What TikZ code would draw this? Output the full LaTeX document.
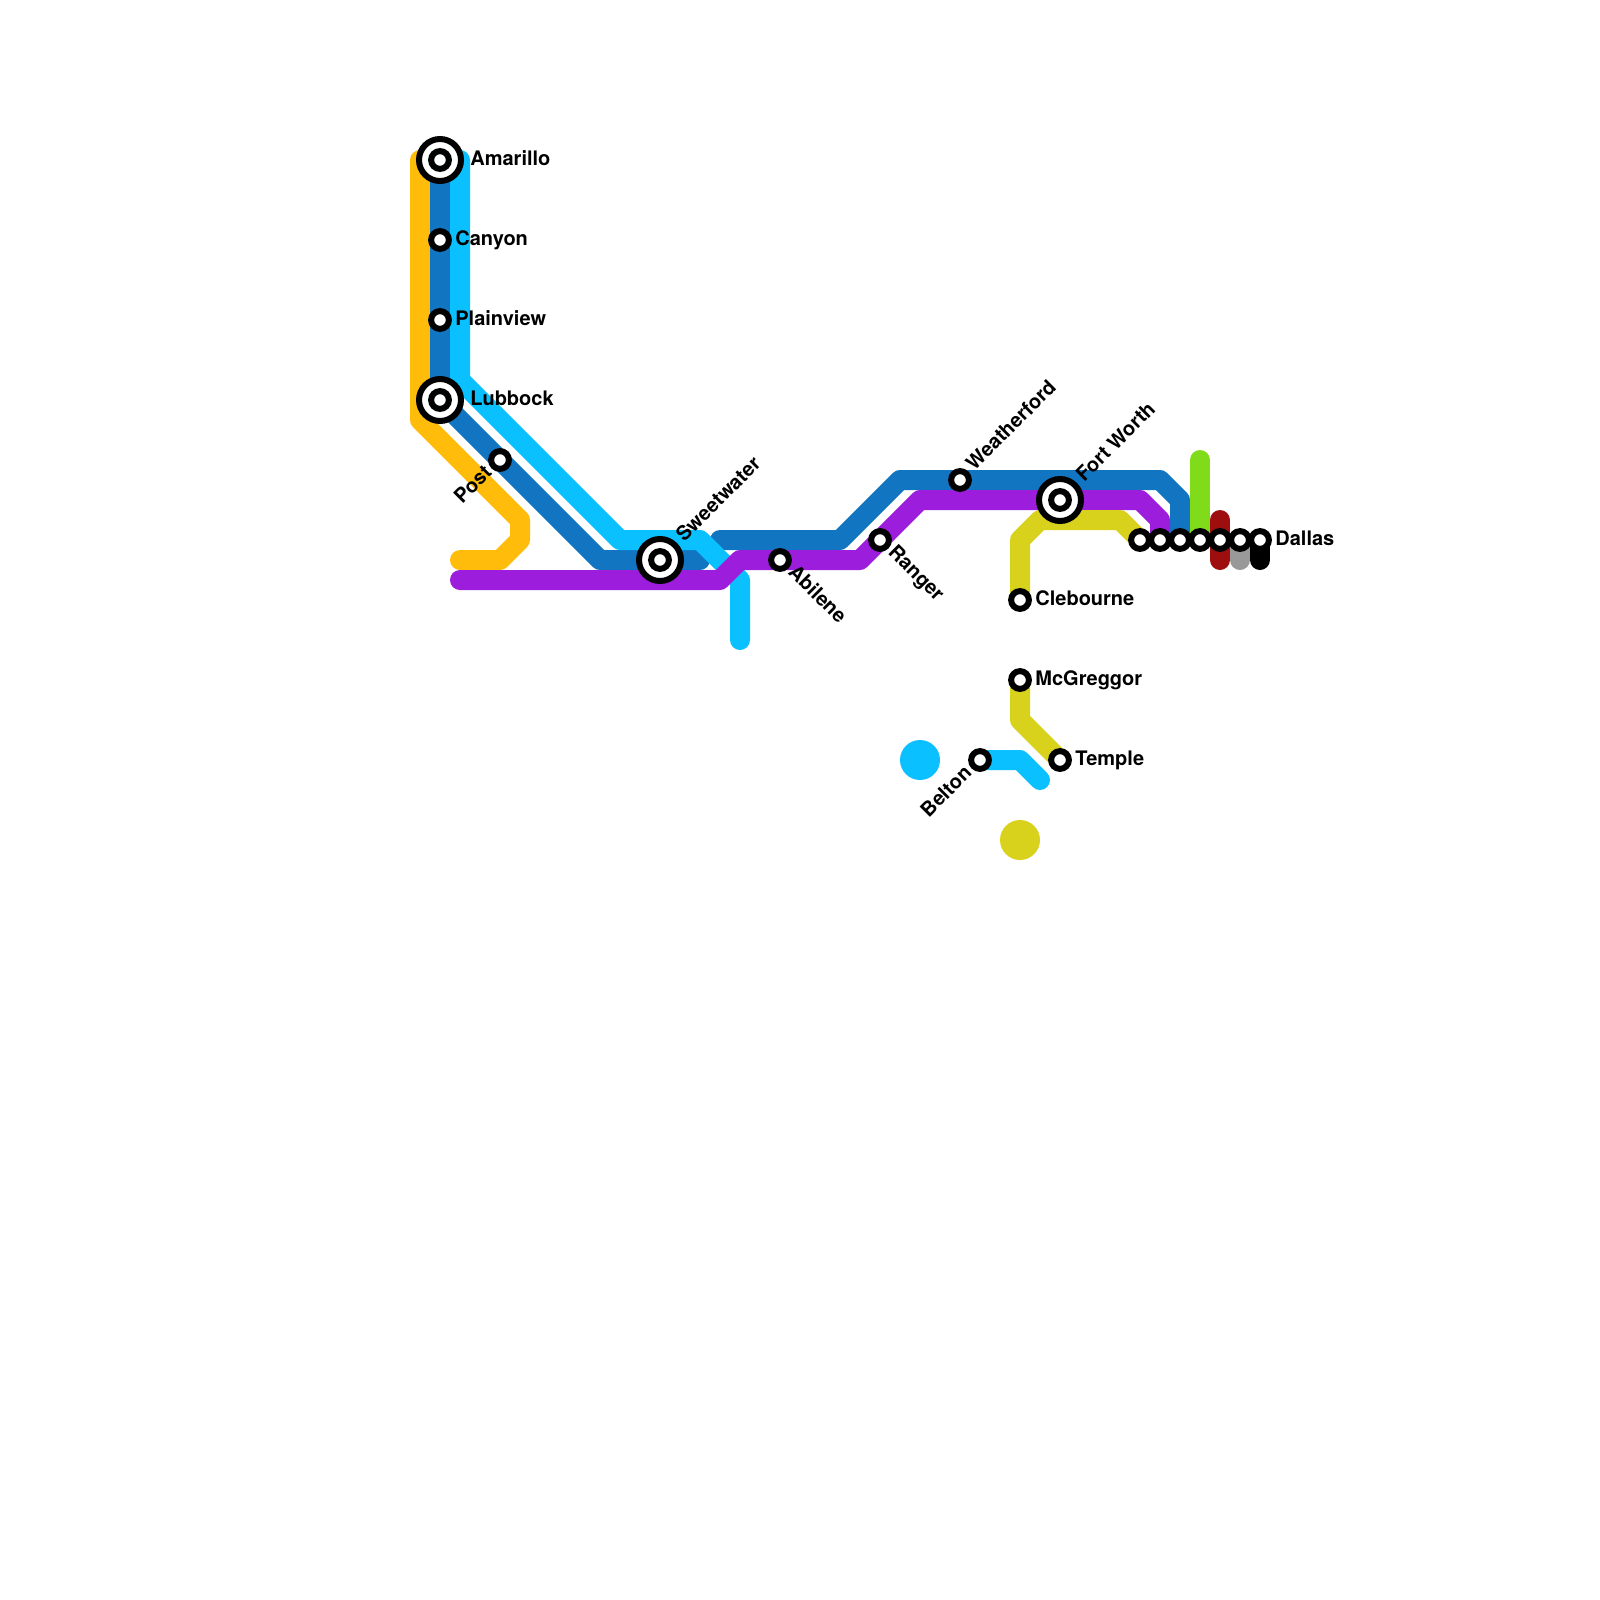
\documentclass[tikz,border=0pt]{standalone}
\usepackage{fontspec}
\setmainfont{TeX Gyre Heros}
\usepackage{xcolor}
\usetikzlibrary{positioning,calc}
\definecolor{amberline}{HTML}{FFBC0A}
\definecolor{navyline}{HTML}{1175C2}
\definecolor{skyline}{HTML}{0BC0FF}
\definecolor{plumline}{HTML}{9D1DDC}
\definecolor{oliveline}{HTML}{D9D21C}
\definecolor{limeline}{HTML}{80DC1A}
\definecolor{brickline}{HTML}{9E0E0E}
\definecolor{ashline}{HTML}{999999}
\tikzset{
  route/.style={line width=10pt, line cap=round, line join=round},
  stop/.style={circle, draw=black, fill=white, line width=3pt, minimum size=8.9pt, inner sep=0pt},
  hub/.style={circle, draw=black, fill=white, line width=3pt, minimum size=21pt, inner sep=0pt},
  disc/.style={circle, minimum size=20pt, inner sep=0pt},
  lbl/.style={font=\fontsize{10}{12}\selectfont\bfseries, text=black, inner sep=0pt},
}
\begin{document}
\begin{tikzpicture}[x=0.5pt,y=-0.5pt]
\useasboundingbox (0,0) rectangle (1600,1600);
% stations
\coordinate (amarillo) at (440,160);
\coordinate (canyon) at (440,240);
\coordinate (plainview) at (440,320);
\coordinate (lubbock) at (440,400);
\coordinate (post) at (500,460);
\coordinate (sweetwater) at (660,560);
\coordinate (abilene) at (780,560);
\coordinate (ranger) at (880,540);
\coordinate (weatherford) at (960,480);
\coordinate (fortworth) at (1060,500);
\coordinate (clebourne) at (1020,600);
\coordinate (mcgreggor) at (1020,680);
\coordinate (temple) at (1060,760);
\coordinate (belton) at (980,760);
\coordinate (dallasa) at (1140,540);
\coordinate (dallasb) at (1160,540);
\coordinate (dallasc) at (1180,540);
\coordinate (dallasd) at (1200,540);
\coordinate (dallase) at (1220,540);
\coordinate (dallasf) at (1240,540);
\coordinate (dallas) at (1260,540);
% line ends and bends
\coordinate (amberstart) at (420,160);
\coordinate (skystart) at (460,160);
\coordinate (navyend) at (700,560);
\coordinate (navystart) at (720,540);
\coordinate (skyend) at (740,640);
\coordinate (plumstart) at (460,580);
\coordinate (amberend) at (460,560);
\coordinate (skystub) at (1040,780);
\coordinate (limetop) at (1200,460);
\coordinate (bricktop) at (1220,520);
\coordinate (brickend) at (1220,560);
\coordinate (ashend) at (1240,560);
\coordinate (blackend) at (1260,560);

% lines
\draw[route, amberline] (amberstart) -- (420,420) -- (520,520) -- (520,540) -- (500,560) -- (amberend);
\draw[route, navyline] (amarillo) -- (canyon) -- (plainview) -- (lubbock) -- (600,560) -- (sweetwater) -- (navyend);
\draw[route, navyline] (navystart) -- (840,540) -- (900,480) -- (weatherford) -- (1160,480) -- (1180,500) -- (dallasc);
\draw[route, skyline] (skystart) -- (460,380) -- (620,540) -- (700,540) -- (740,580) -- (skyend);
\draw[route, plumline] (plumstart) -- (720,580) -- (740,560) -- (abilene) -- (860,560) -- (920,500) -- (fortworth) -- (1140,500) -- (1160,520) -- (dallasb);
\draw[route, oliveline] (clebourne) -- (1020,540) -- (1040,520) -- (1120,520) -- (dallasa);
\draw[route, oliveline] (mcgreggor) -- (1020,720) -- (temple);
\draw[route, skyline] (belton) -- (1020,760) -- (skystub);
\draw[route, limeline] (limetop) -- (dallasd);
\draw[route, brickline] (bricktop) -- (brickend);
\draw[route, ashline] (dallasf) -- (ashend);
\draw[route, black] (dallas) -- (blackend);

\node[disc, fill=skyline] (skydisc) at (920,760) {};
\node[disc, fill=oliveline] (olivedisc) at (1020,840) {};

% station marks
\foreach \s in {canyon,plainview,post,abilene,ranger,weatherford,clebourne,mcgreggor,temple,belton,
                dallasa,dallasb,dallasc,dallasd,dallase,dallasf,dallas}
  \node[stop] (\s mark) at (\s) {};
\foreach \s in {amarillo,lubbock,sweetwater,fortworth} {
  \node[hub] (\s ring) at (\s) {};
  \node[stop] (\s mark) at (\s) {};
}

% labels
\node[lbl, anchor=base west] (amarillolbl) at ($(amarillo)+(30,5)$) {Amarillo};
\node[lbl, anchor=base west] (canyonlbl) at ($(canyon)+(15,5)$) {Canyon};
\node[lbl, anchor=base west] (plainviewlbl) at ($(plainview)+(15,5)$) {Plainview};
\node[lbl, anchor=base west] (lubbocklbl) at ($(lubbock)+(30,5)$) {Lubbock};
\node[lbl, anchor=base west] (cleburnelbl) at ($(clebourne)+(15,5)$) {Clebourne};
\node[lbl, anchor=base west] (mcgreggorlbl) at ($(mcgreggor)+(15,5)$) {McGreggor};
\node[lbl, anchor=base west] (templelbl) at ($(temple)+(15,5)$) {Temple};
\node[lbl, anchor=base west] (dallaslbl) at ($(dallas)+(15,5)$) {Dallas};
\node[lbl, anchor=base west, rotate=45] (sweetwaterlbl) at ($(sweetwater)+(24,-17)$) {Sweetwater};
\node[lbl, anchor=base west, rotate=45] (weatherfordlbl) at ($(weatherford)+(14,-8)$) {Weatherford};
\node[lbl, anchor=base west, rotate=45] (fortworthlbl) at ($(fortworth)+(24,-17)$) {Fort Worth};
\node[lbl, anchor=base west, rotate=-45] (abilenelbl) at ($(abilene)+(7,13)$) {Abilene};
\node[lbl, anchor=base west, rotate=-45] (rangerlbl) at ($(ranger)+(7,13)$) {Ranger};
\node[lbl, anchor=base east, rotate=45] (postlbl) at ($(post)+(-7,14)$) {Post};
\node[lbl, anchor=base east, rotate=45] (beltonlbl) at ($(belton)+(-7,14)$) {Belton};
\end{tikzpicture}
\end{document}
